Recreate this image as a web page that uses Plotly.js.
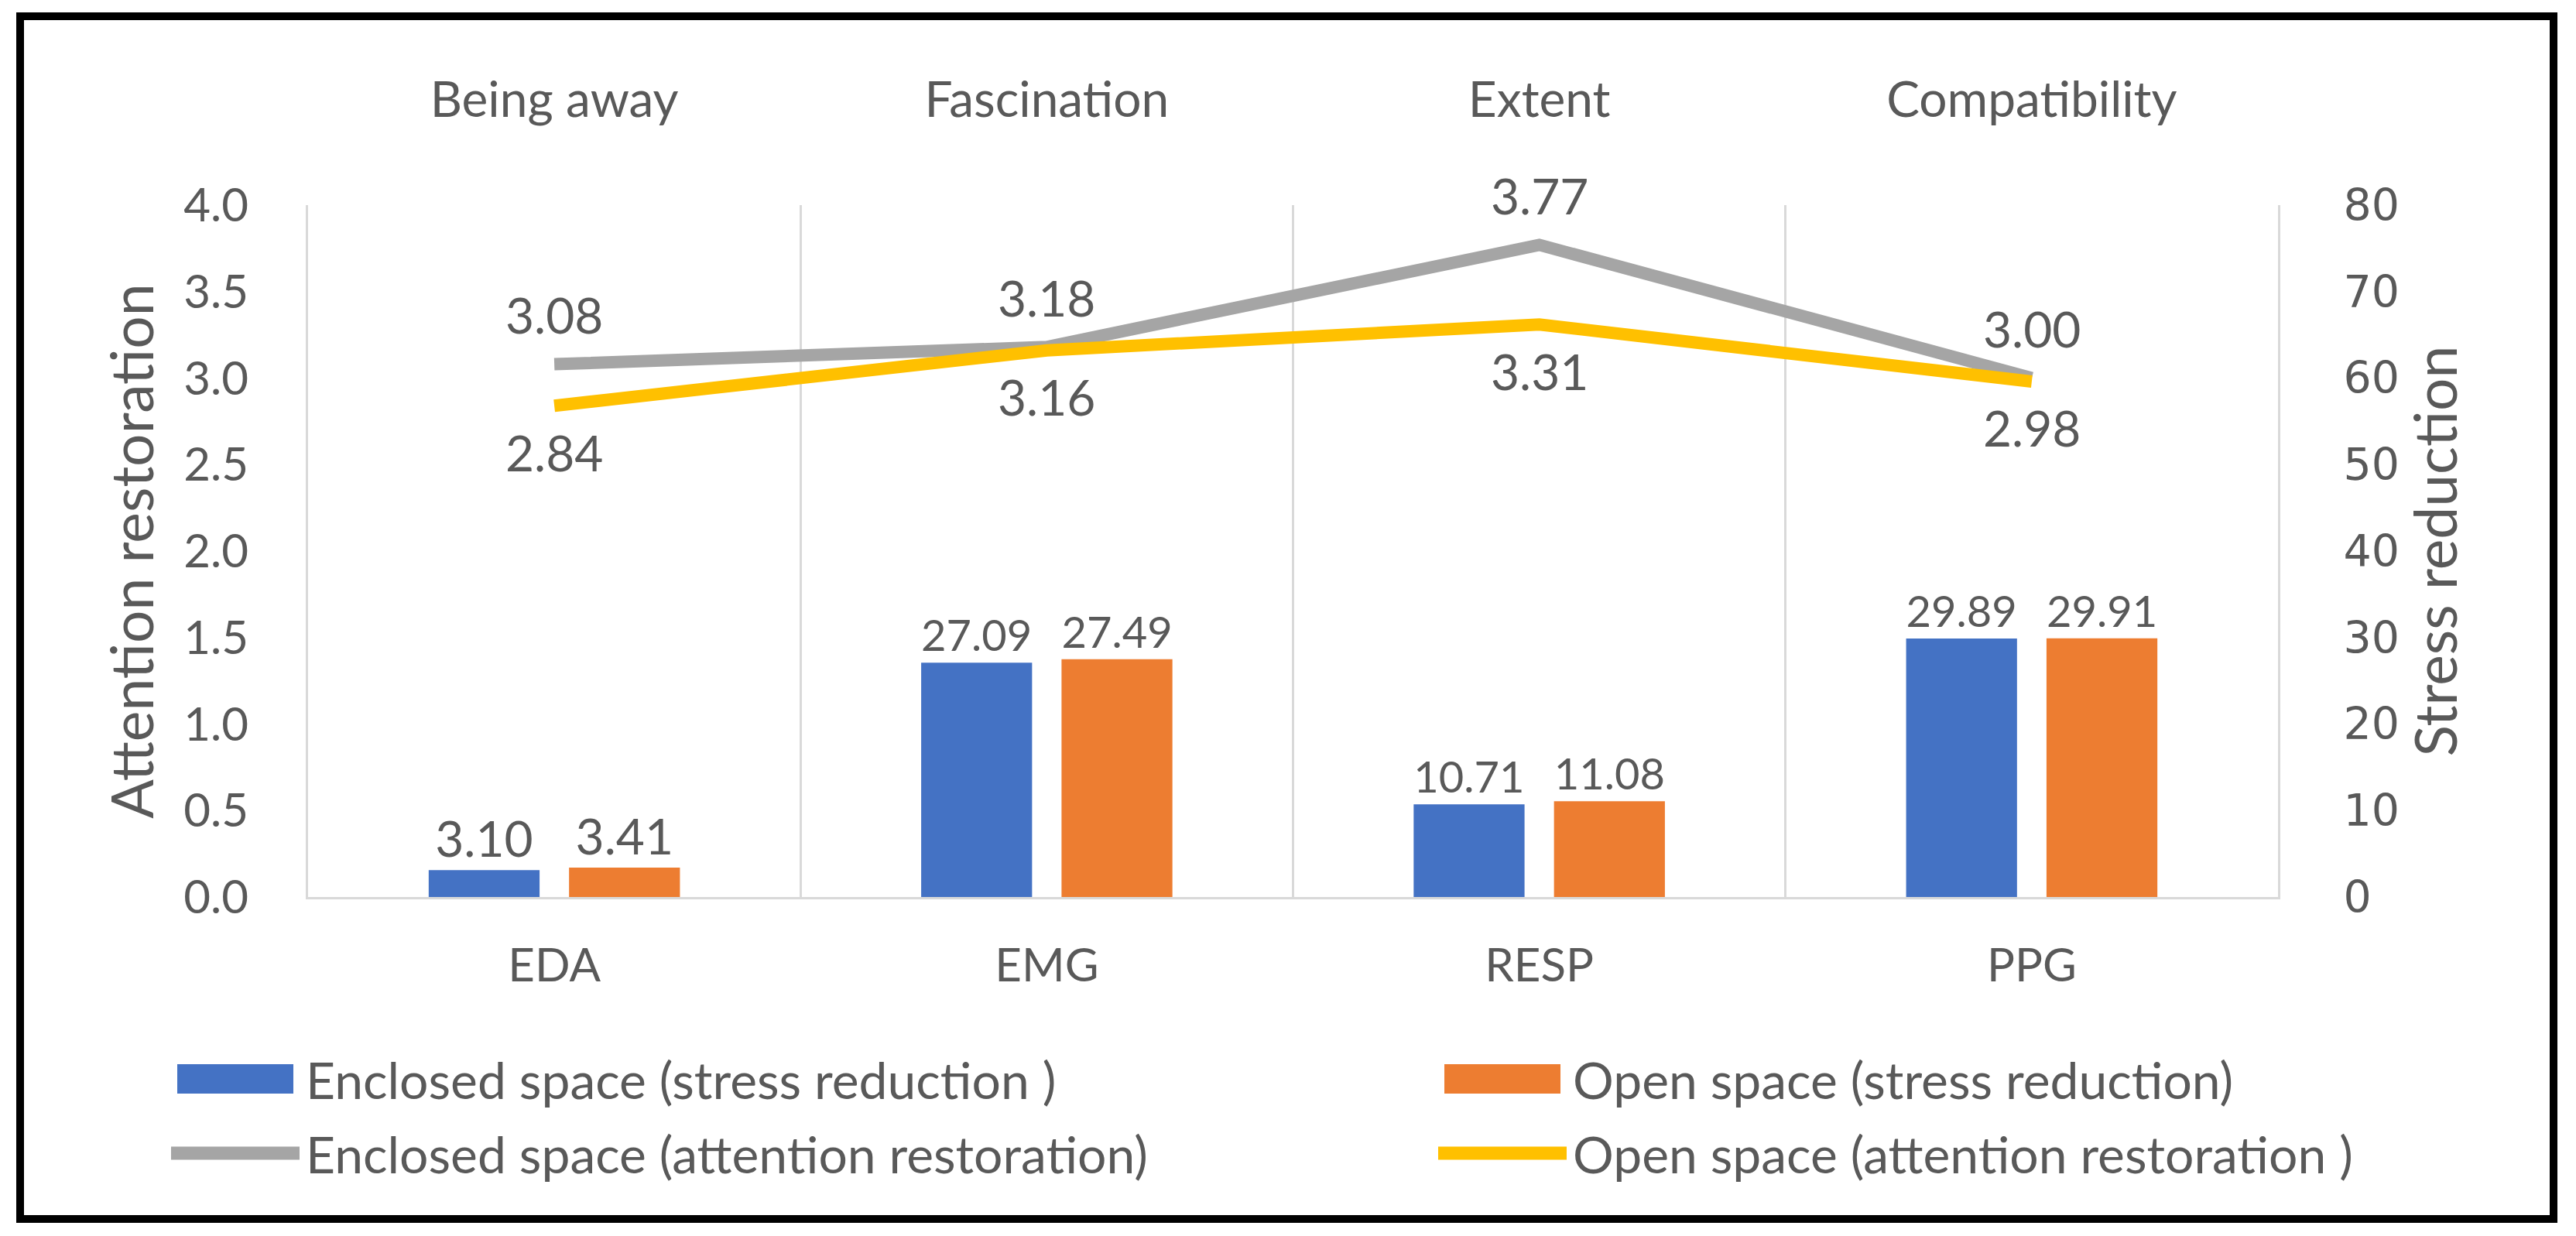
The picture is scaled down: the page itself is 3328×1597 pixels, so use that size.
<!DOCTYPE html>
<html>
<head>
<meta charset="utf-8">
<script src="https://cdn.plot.ly/plotly-3.0.1.min.js"></script>
<style>
  html, body { margin: 0; padding: 0; background: #ffffff; }
  #chart { width: 3328px; height: 1597px; }
</style>
</head>
<body>
<div id="chart"></div>
<script>
// ---- data ----
const categories = ['EDA', 'EMG', 'RESP', 'PPG'];
const dimensions = ['Being away', 'Fascination', 'Extent', 'Compatibility'];
const enclosedStress = [3.10, 27.09, 10.71, 29.89];
const openStress = [3.41, 27.49, 11.08, 29.91];
const enclosedAttention = [3.08, 3.18, 3.77, 3.00];
const openAttention = [2.84, 3.16, 3.31, 2.98];
const seriesNames = [
  'Enclosed space (stress reduction )',
  'Open space (stress reduction)',
  'Enclosed space (attention restoration)',
  'Open space (attention restoration )'
];
const seriesColors = ['#4472C4', '#ED7D31', '#A5A5A5', '#FFC000'];
const seriesKinds = ['bar', 'bar', 'line', 'line'];
const leftTitle = 'Attention restoration';
const rightTitle = 'Stress reduction';

// ---- layout geometry (pixels) ----
const W = 3328, H = 1597;
const PL = 398, PR = 2943, PT = 265, PB = 1159;
const pw = PR - PL, ph = PB - PT;
const px2x = p => (p - PL) / pw;
const py2y = p => (PB - p) / ph;

const textColor = '#595959';
const mainFont = 'Lato, "Open Sans", sans-serif';
const tickFs = 60;
const labelFs = 64;
const legendFs = 66;
const titleFs = 75;

const traces = [
  {
    type: 'bar', name: seriesNames[0], x: categories, y: enclosedStress,
    xaxis: 'x', yaxis: 'y', marker: { color: seriesColors[0] },
    texttemplate: '%{y:.2f}', textposition: 'outside', cliponaxis: false,
    textfont: { family: mainFont, size: labelFs, color: textColor }, showlegend: false
  },
  {
    type: 'bar', name: seriesNames[1], x: categories, y: openStress,
    xaxis: 'x', yaxis: 'y', marker: { color: seriesColors[1] },
    texttemplate: '%{y:.2f}', textposition: 'outside', cliponaxis: false,
    textfont: { family: mainFont, size: labelFs, color: textColor }, showlegend: false
  },
  {
    type: 'scatter', mode: 'lines', name: seriesNames[2], x: dimensions, y: enclosedAttention,
    xaxis: 'x2', yaxis: 'y2', line: { color: seriesColors[2], width: 16 }, showlegend: false
  },
  {
    type: 'scatter', mode: 'lines', name: seriesNames[3], x: dimensions, y: openAttention,
    xaxis: 'x2', yaxis: 'y2', line: { color: seriesColors[3], width: 16 }, showlegend: false
  }
];

// data labels for lines (enclosed above, open below)
const annotations = [];
dimensions.forEach((d, i) => {
  annotations.push({ xref: 'x2', yref: 'y2', x: d, y: enclosedAttention[i], text: enclosedAttention[i].toFixed(2),
    showarrow: false, yshift: 64, font: { family: mainFont, size: labelFs, color: textColor } });
  annotations.push({ xref: 'x2', yref: 'y2', x: d, y: openAttention[i], text: openAttention[i].toFixed(2),
    showarrow: false, yshift: -60, font: { family: mainFont, size: labelFs, color: textColor } });
});

// custom legend (2 columns x 2 rows)
const shapes = [];
const legendCols = [229, 1866];
const legendRows = [1394, 1490];
const swatchW = 150;
seriesNames.forEach((name, i) => {
  const col = legendCols[i % 2], row = legendRows[Math.floor(i / 2)];
  if (seriesKinds[i] === 'bar') {
    shapes.push({ type: 'rect', xref: 'paper', yref: 'paper', layer: 'above',
      x0: px2x(col), x1: px2x(col + swatchW), y0: py2y(row + 19), y1: py2y(row - 19),
      fillcolor: seriesColors[i], line: { width: 0 } });
  } else {
    shapes.push({ type: 'line', xref: 'paper', yref: 'paper', layer: 'above',
      x0: px2x(col - 8), x1: px2x(col + swatchW + 8), y0: py2y(row), y1: py2y(row),
      line: { color: seriesColors[i], width: 17 } });
  }
  annotations.push({ xref: 'paper', yref: 'paper', x: px2x(col + swatchW + 14), y: py2y(row),
    xanchor: 'left', yanchor: 'middle', text: name, showarrow: false,
    font: { family: mainFont, size: legendFs, color: textColor } });
});

// outer black frame
shapes.push({ type: 'rect', xref: 'paper', yref: 'paper', layer: 'above',
  x0: px2x(26), x1: px2x(3299), y0: py2y(1575), y1: py2y(21),
  line: { color: '#000000', width: 10 }, fillcolor: 'rgba(0,0,0,0)' });

const gridCol = '#D9D9D9';
const layout = {
  width: W, height: H,
  margin: { l: PL, r: W - PR, t: PT, b: H - PB, pad: 0 },
  paper_bgcolor: '#ffffff', plot_bgcolor: '#ffffff',
  showlegend: false,
  barmode: 'group', bargap: 0.43, bargroupgap: 0.21,
  font: { family: mainFont, size: tickFs, color: textColor },
  xaxis: {
    type: 'category', range: [-0.5, 3.5], anchor: 'y',
    showgrid: true, tickson: 'boundaries', gridcolor: gridCol, gridwidth: 3,
    showline: true, linecolor: gridCol, linewidth: 3,
    ticks: '', ticklabelstandoff: 34, automargin: false,
    tickfont: { family: mainFont, size: tickFs, color: textColor }
  },
  yaxis: {
    range: [0, 80], dtick: 10, side: 'right', anchor: 'x',
    showgrid: false, zeroline: false,
    showline: true, linecolor: gridCol, linewidth: 3, ticks: '', ticklabelstandoff: 70,
    automargin: false,
    tickfont: { family: '"DejaVu Sans", sans-serif', size: 57, color: textColor },
    title: { text: rightTitle, standoff: 22, font: { family: mainFont, size: titleFs, color: textColor } }
  },
  xaxis2: {
    type: 'category', range: [-0.5, 3.5], overlaying: 'x', side: 'top', anchor: 'y2',
    showgrid: false, showline: false, ticks: '', ticklabelstandoff: 100, automargin: false,
    tickfont: { family: mainFont, size: labelFs, color: textColor }
  },
  yaxis2: {
    range: [0, 4], dtick: 0.5, tickformat: '.1f', overlaying: 'y', side: 'left', anchor: 'x2',
    showgrid: false, zeroline: false,
    showline: true, linecolor: gridCol, linewidth: 3, ticks: '', ticklabelstandoff: 62,
    automargin: false,
    tickfont: { family: mainFont, size: tickFs, color: textColor },
    title: { text: leftTitle, standoff: 14, font: { family: mainFont, size: titleFs, color: textColor } }
  },
  annotations: annotations,
  shapes: shapes
};

Plotly.newPlot('chart', traces, layout, { staticPlot: true, displayModeBar: false });
</script>
</body>
</html>
